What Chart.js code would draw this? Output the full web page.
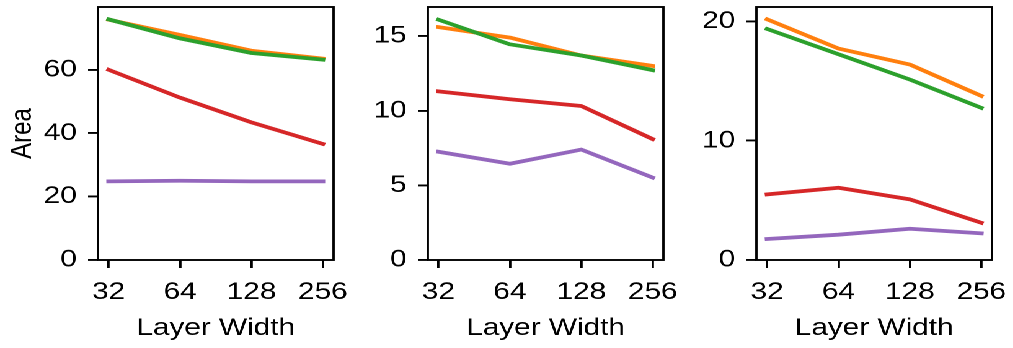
<!DOCTYPE html>
<html>
<head>
<meta charset="utf-8">
<script src="https://cdn.jsdelivr.net/npm/chart.js@4"></script>
<style>
  html, body { margin: 0; padding: 0; background: #fff; overflow: hidden; }
  #stage { position: absolute; left: 0; top: 0; width: 817px; height: 348px;
           transform: scaleX(1.24); transform-origin: 0 0; }
  .panel { position: absolute; top: 0; width: 287px; height: 348px; }
  .panel canvas { display: block; }
</style>
</head>
<body>
<div id="stage">
  <div class="panel" id="p1"><canvas id="c1" width="287" height="348"></canvas></div>
  <div class="panel" id="p2"><canvas id="c2" width="287" height="348"></canvas></div>
  <div class="panel" id="p3"><canvas id="c3" width="287" height="348"></canvas></div>
</div>
<script>
// ---- data ----
const layerWidths = [32, 64, 128, 256];
const xTickLabels = [32, 64, 128, 256];
const xLabel = "Layer Width";
const yLabel = "Area";

const seriesColors = ["#ff7f0e", "#2ca02c", "#d62728", "#9467bd"];

// panel 1
const p1Orange = [75.8, 71.0, 66.0, 63.5];
const p1Green  = [75.9, 69.9, 65.3, 63.2];
const p1Red    = [60.0, 51.2, 43.4, 36.6];
const p1Purple = [24.8, 25.0, 24.8, 24.8];
const p1YTicks = [0, 20, 40, 60];
const p1YMax = 79.8;

// panel 2
const p2Orange = [15.6, 14.9, 13.7, 13.0];
const p2Green  = [16.1, 14.45, 13.7, 12.72];
const p2Red    = [11.3, 10.77, 10.32, 8.1];
const p2Purple = [7.25, 6.45, 7.4, 5.52];
const p2YTicks = [0, 5, 10, 15];
const p2YMax = 16.95;

// panel 3
const p3Orange = [20.17, 17.72, 16.38, 13.75];
const p3Green  = [19.36, 17.24, 15.12, 12.75];
const p3Red    = [5.5, 6.05, 5.08, 3.12];
const p3Purple = [1.76, 2.12, 2.62, 2.23];
const p3YTicks = [0, 10, 20];
const p3YMax = 21.2;

// ---- styling / layout ----
const FONT = "'Liberation Sans', Arial, Helvetica, sans-serif";
const FS = 24;
const LW = 3.8;       // line width
const AW = 1.9;       // axes line width
const TL = 8;         // tick length
const Y_AXIS_W = 80;
const X_AXIS_H = 88;
const plotLefts = [79.3, 344.6, 609.9];

Chart.defaults.font.family = FONT;
Chart.defaults.font.size = FS;
Chart.defaults.color = "#000";

const boxPlugin = {
  id: "box",
  afterDraw(chart) {
    const a = chart.chartArea, ctx = chart.ctx;
    ctx.save();
    ctx.strokeStyle = "#000";
    ctx.lineWidth = AW;
    ctx.strokeRect(a.left, a.top, a.right - a.left, a.bottom - a.top);
    ctx.restore();
  }
};

function zeroPad(s) {
  s.paddingTop = 0; s.paddingBottom = 0; s.paddingLeft = 0; s.paddingRight = 0;
}

function makePanel(id, idx, series, yTicks, yMax, showYLabel) {
  document.getElementById("p" + (idx + 1)).style.left = (plotLefts[idx] - Y_AXIS_W) + "px";
  const datasets = series.map((vals, i) => ({
    data: vals.map((v, j) => ({ x: Math.log2(layerWidths[j]), y: v })),
    borderColor: seriesColors[i],
    backgroundColor: seriesColors[i],
    borderWidth: LW,
    pointRadius: 0,
    tension: 0,
    fill: false,
    borderCapStyle: "square",
    borderJoinStyle: "round",
    order: series.length - i
  }));
  const lx = layerWidths.map(v => Math.log2(v));
  const xmin = Math.min(...lx), xmax = Math.max(...lx);
  const m = (xmax - xmin) * 0.05;
  return new Chart(document.getElementById(id), {
    type: "line",
    data: { datasets },
    plugins: [boxPlugin],
    options: {
      responsive: false,
      devicePixelRatio: 2,
      animation: false,
      events: [],
      layout: { padding: { top: 7, right: 17, bottom: 0, left: 0 } },
      plugins: { legend: { display: false }, tooltip: { enabled: false } },
      scales: {
        x: {
          type: "linear",
          min: xmin - m,
          max: xmax + m,
          border: { display: false },
          grid: { drawOnChartArea: false, drawTicks: true, tickLength: TL, color: "#000", lineWidth: AW },
          afterBuildTicks(s) { s.ticks = xTickLabels.map(v => ({ value: Math.log2(v) })); },
          ticks: {
            autoSkip: false, maxRotation: 0, minRotation: 0, padding: 10,
            color: "#000",
            callback: (v) => String(Math.round(Math.pow(2, v)))
          },
          title: { display: true, text: xLabel, color: "#000", padding: { top: 0, bottom: 5 } },
          afterFit(s) { s.height = X_AXIS_H; zeroPad(s); }
        },
        y: {
          type: "linear",
          min: 0,
          max: yMax,
          border: { display: false },
          grid: { drawOnChartArea: false, drawTicks: true, tickLength: TL, color: "#000", lineWidth: AW },
          afterBuildTicks(s) { s.ticks = yTicks.map(v => ({ value: v })); },
          ticks: { padding: 9, color: "#000", callback: (v) => String(v) },
          title: { display: showYLabel, text: yLabel, color: "#000", padding: { top: 5, bottom: 0 } },
          afterFit(s) { s.width = Y_AXIS_W; zeroPad(s); }
        }
      }
    }
  });
}

makePanel("c1", 0, [p1Orange, p1Green, p1Red, p1Purple], p1YTicks, p1YMax, true);
makePanel("c2", 1, [p2Orange, p2Green, p2Red, p2Purple], p2YTicks, p2YMax, false);
makePanel("c3", 2, [p3Orange, p3Green, p3Red, p3Purple], p3YTicks, p3YMax, false);
</script>
</body>
</html>
